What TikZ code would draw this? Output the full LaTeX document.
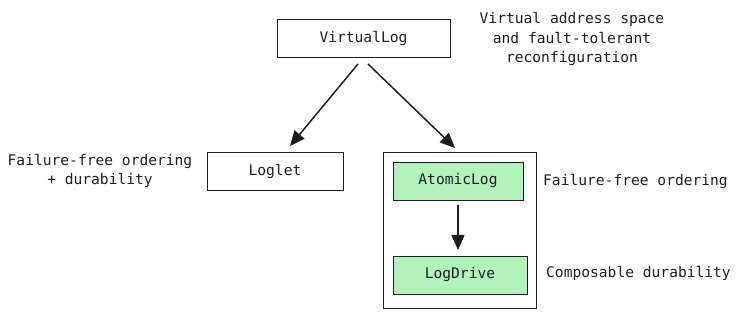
\documentclass[tikz,border=0pt]{standalone}
\usepackage{fontspec}
\setmonofont{DejaVu Sans Mono}
\usetikzlibrary{arrows.meta}
\definecolor{ink}{HTML}{1E1E1E}
\definecolor{boxgreen}{HTML}{B2F2BB}
\tikzset{
  blk/.style={draw=ink, line width=0.9pt, minimum height=38pt, inner sep=0pt, font=\ttfamily\fontsize{14.6}{20}\selectfont, text=ink},
  note/.style={font=\ttfamily\fontsize{14.6}{19.5}\selectfont, text=ink, align=center, inner sep=0pt},
  conn/.style={draw=ink, line width=1.5pt, -{Triangle[length=15pt,width=13pt]}}
}
\begin{document}
\begin{tikzpicture}[x=1pt,y=-1pt]
\useasboundingbox (0,0) rectangle (740,318);
\node[blk, minimum width=173pt] (vl) at (363.5,38) {VirtualLog};
\node[note] (vlnote) at (572,39) {Virtual address space\\and fault-tolerant\\reconfiguration};
\node[blk, minimum width=136pt] (loglet) at (275,171) {Loglet};
\node[note] (logletnote) at (100,171) {Failure-free ordering\\+ durability};
\node[draw=ink, line width=0.9pt, minimum width=153pt, minimum height=156pt, inner sep=0pt] (cont) at (459.5,230) {};
\node[blk, fill=boxgreen, minimum width=130pt] (atomic) at (458,181) {AtomicLog};
\node[blk, fill=boxgreen, minimum width=134pt] (drive) at (460,275) {LogDrive};
\node[note, anchor=west] (atomicnote) at (543,181) {Failure-free ordering};
\node[note, anchor=west] (drivenote) at (546,273) {Composable durability};
\coordinate (vlL) at (358,64);
\coordinate (vlR) at (368,64);
\coordinate (lgT) at (290,146);
\coordinate (ctT) at (455,148);
\coordinate (atB) at (458,205);
\coordinate (drT) at (458,250);
\draw[conn] (vlL) -- (lgT);
\draw[conn] (vlR) -- (ctT);
\draw[conn, line width=1.1pt] (atB) -- (drT);
\end{tikzpicture}
\end{document}
